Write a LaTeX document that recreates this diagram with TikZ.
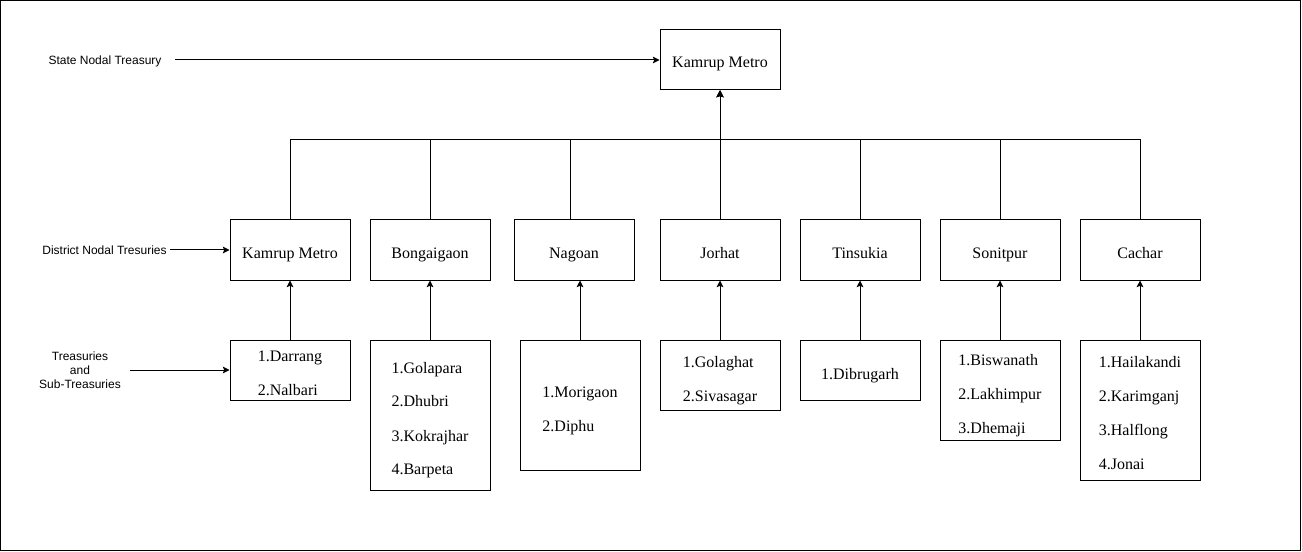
\documentclass[tikz,border=0pt]{standalone}
\usepackage{fontspec}
\setmainfont{Liberation Serif}
\newfontfamily\lblfont{Liberation Sans}
\usetikzlibrary{arrows.meta}
\newcommand{\itemlist}[1]{\begin{tabular}[t]{@{}l@{}}#1\end{tabular}}
\newcommand{\lbllist}[1]{\begin{tabular}[t]{@{}c@{}}#1\end{tabular}}
\begin{document}
\begin{tikzpicture}[x=0.75pt,y=-0.75pt,
  every node/.style={inner sep=0pt},
  box/.style={draw,line width=0.75pt,minimum width=90pt,minimum height=45pt,font=\fontsize{12}{14}\selectfont,text height=12pt,text depth=0pt},
  frame/.style={draw,line width=0.75pt,minimum width=90pt},
  items/.style={anchor=base,font=\fontsize{12}{14}\selectfont\def\arraystretch{1.8214}},
  lbl/.style={anchor=base,font=\lblfont\fontsize{9}{10.5}\selectfont},
  conn/.style={line width=0.75pt,-{Stealth[length=5pt,width=5pt,inset=1pt]}},
  link/.style={line width=0.75pt}]
\useasboundingbox (0,0) rectangle (1302,552);
\draw[link] (0.5,0.5) rectangle (1300.5,550.5);

% top
\node[box] (top) at (720,60) {Kamrup Metro};
% districts
\node[box] (d1) at (290,250) {Kamrup Metro};
\node[box] (d2) at (430,250) {Bongaigaon};
\node[box] (d3) at (574,250) {Nagoan};
\node[box] (d4) at (720,250) {Jorhat};
\node[box] (d5) at (860,250) {Tinsukia};
\node[box] (d6) at (1000,250) {Sonitpur};
\node[box] (d7) at (1140,250) {Cachar};

% sub-treasury frames
\node[frame,minimum height=45pt] (s1) at (290,370) {};
\node[frame,minimum height=112.5pt] (s2) at (430,415) {};
\node[frame,minimum height=97.5pt] (s3) at (580,405) {};
\node[frame,minimum height=52.5pt] (s4) at (720,375) {};
\node[frame,minimum height=45pt] (s5) at (860,370) {};
\node[frame,minimum height=75pt] (s6) at (1000,390) {};
\node[frame,minimum height=105pt] (s7) at (1140,410) {};

% lists
\node[items] (t1) at (290,361) {\itemlist{1.Darrang\\2.Nalbari}};
\node[items] (t2) at (430,373) {\itemlist{1.Golapara\\2.Dhubri\\3.Kokrajhar\\4.Barpeta}};
\node[items] (t3) at (580,397) {\itemlist{1.Morigaon\\2.Diphu}};
\node[items] (t4) at (720,367) {\itemlist{1.Golaghat\\2.Sivasagar}};
\node[items] (t5) at (860,379) {\itemlist{1.Dibrugarh}};
\node[items] (t6) at (1000,365) {\itemlist{1.Biswanath\\2.Lakhimpur\\3.Dhemaji}};
\node[items] (t7) at (1140,367.5) {\itemlist{1.Hailakandi\\2.Karimganj\\3.Halflong\\4.Jonai}};

% labels
\node[lbl] (l1) at (105,64.7) {State Nodal Treasury};
\node[lbl] (l2) at (104.5,254) {District Nodal Tresuries};
\node[lbl] (l3) at (80,360) {\lbllist{Treasuries\\and\\Sub-Treasuries}};

\coordinate (a1) at (175,60);
\coordinate (a2) at (170,250);
\coordinate (a3) at (130,370);
\coordinate (bus) at (720,140);

\draw[conn] (a1) -- (top.west);
\draw[conn] (a2) -- (d1.west);
\draw[conn] (a3) -- (s1.west);
\foreach \d in {d1,d2,d4,d5,d6,d7} \draw[conn] (\d.north) |- (bus) -- (top.south);
\draw[conn] ([xshift=-3pt]d3.north) |- (bus) -- (top.south);
\foreach \i in {1,...,7} \draw[conn] (s\i.north) -- (s\i.north |- d\i.south);
\end{tikzpicture}
\end{document}
